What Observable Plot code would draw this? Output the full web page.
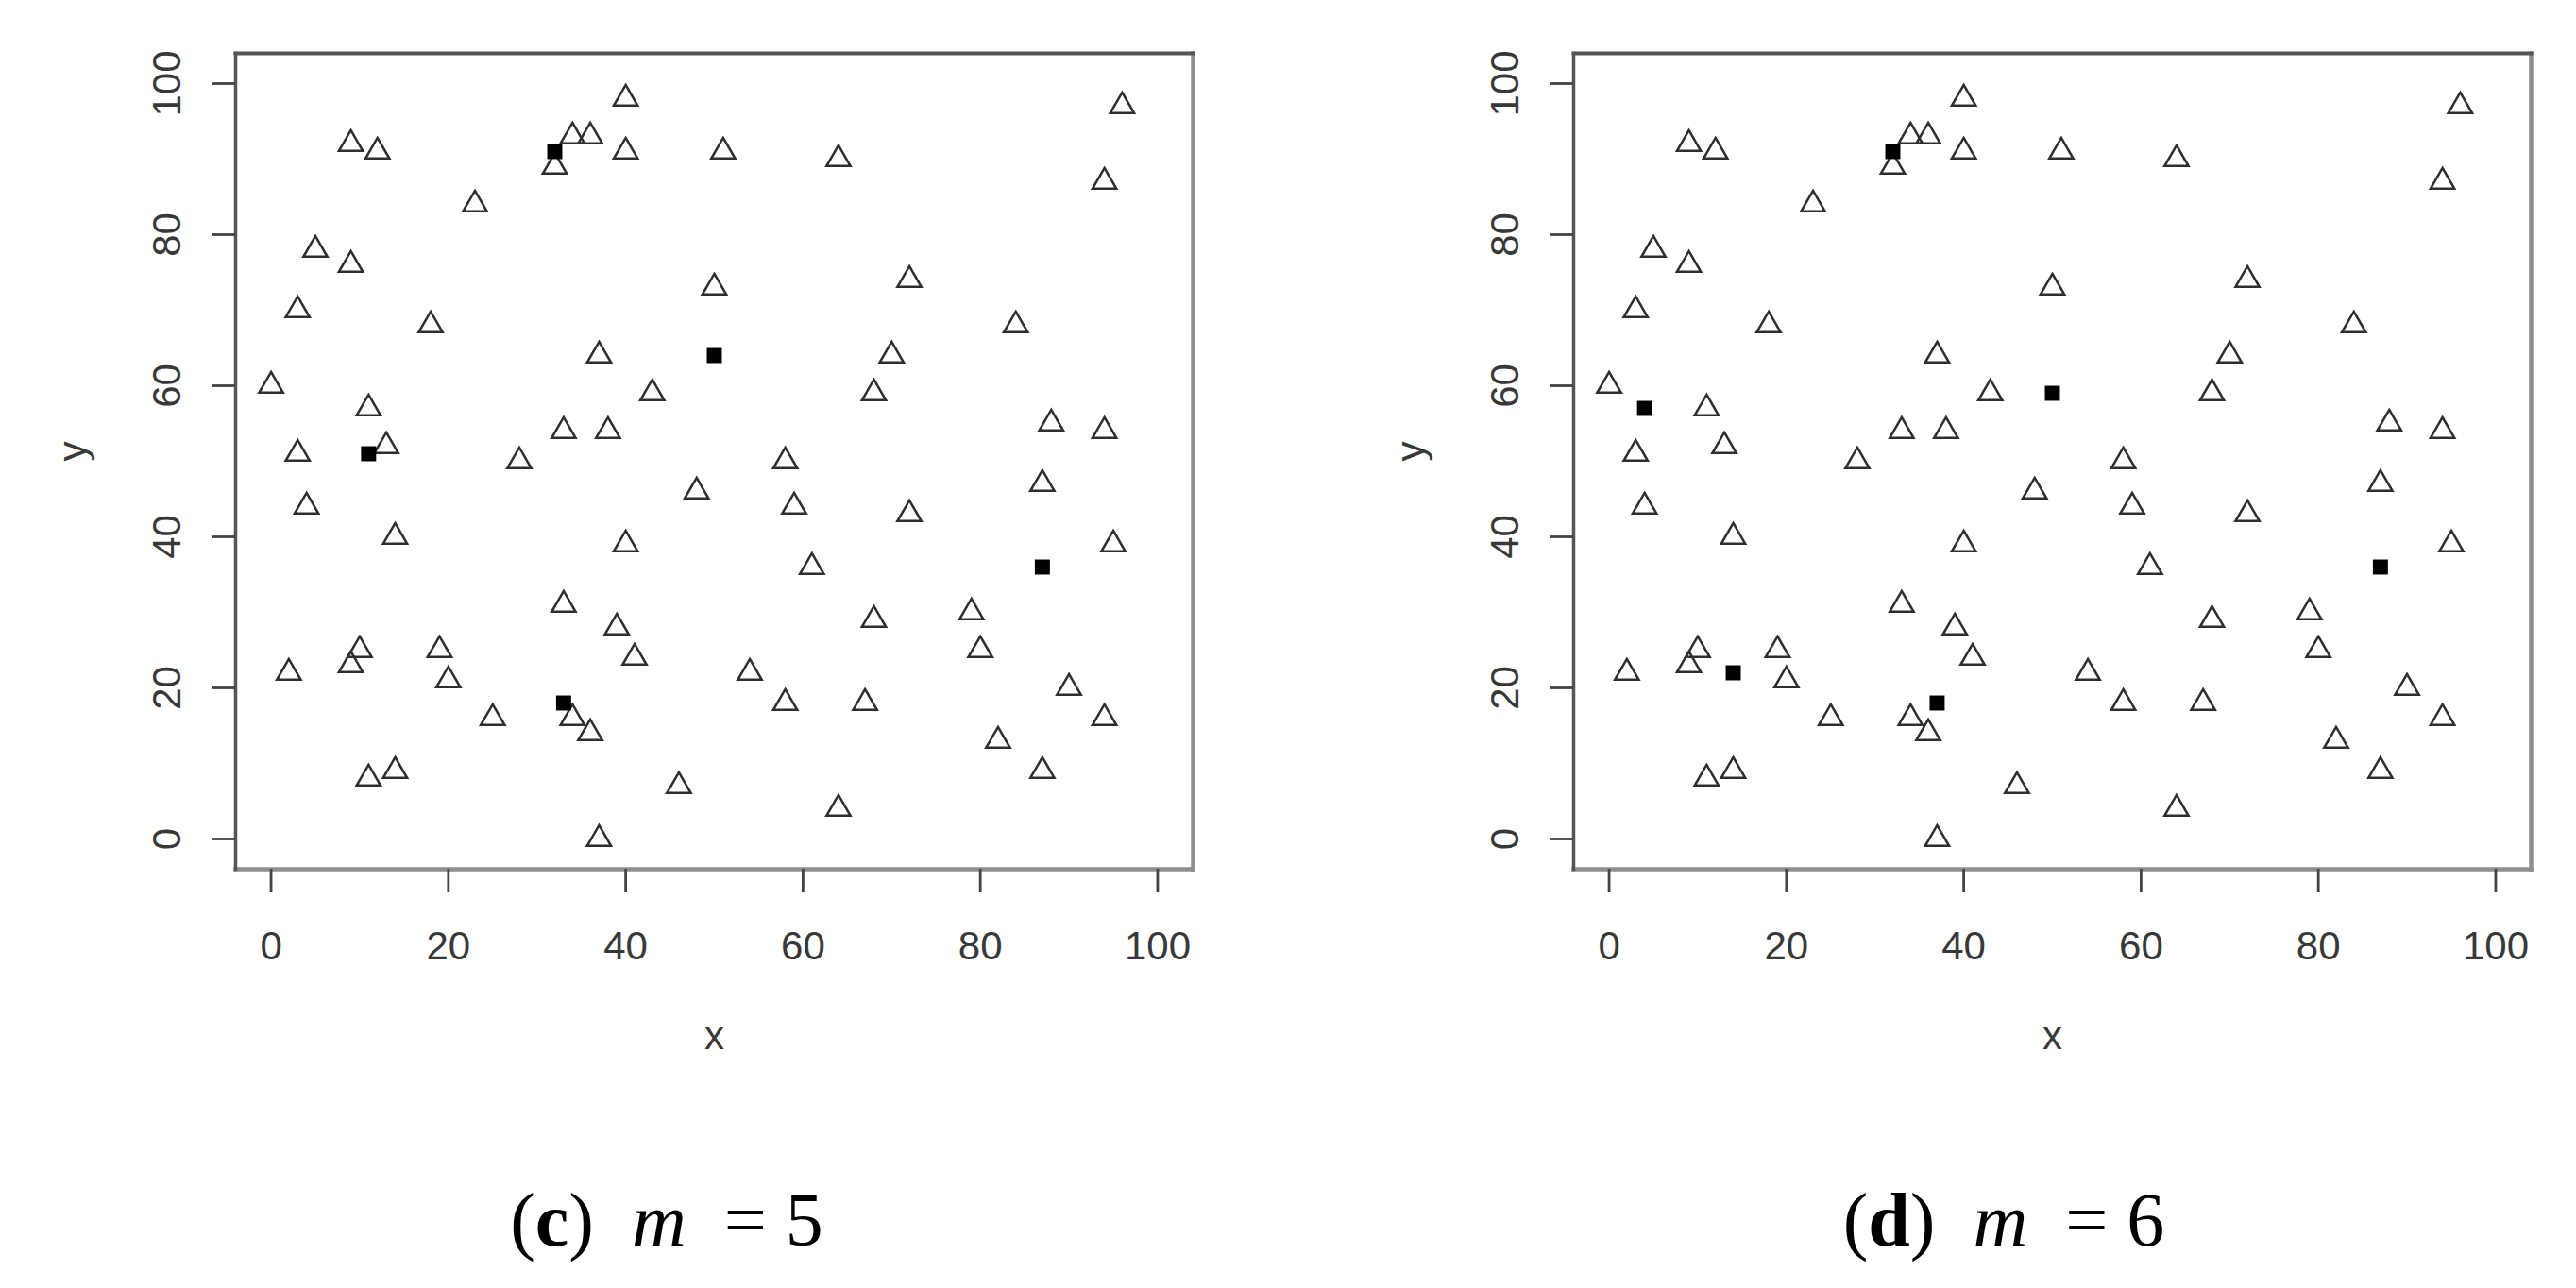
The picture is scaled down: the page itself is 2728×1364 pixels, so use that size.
<!DOCTYPE html>
<html>
<head>
<meta charset="utf-8">
<script src="https://cdn.jsdelivr.net/npm/d3@7"></script>
<script src="https://cdn.jsdelivr.net/npm/@observablehq/plot@0.6"></script>
<style>
  html, body { margin: 0; padding: 0; background: #fff; }
  #page { position: relative; width: 2728px; height: 1364px; overflow: hidden; background: #fff; }
  .panel { position: absolute; top: 0; }
  .cap { position: absolute; top: 1252px; width: 700px; text-align: center;
         font-family: "Liberation Serif", "Times New Roman", serif; font-size: 80px;
         line-height: 80px; color: #000; white-space: pre; }
  .cap i { font-style: italic; }
  .cap b { font-weight: bold; }
</style>
</head>
<body>
<div id="page"></div>
<script>
// Demand points (triangles), same in both panels
const triX = [40, 96, 9, 12, 32, 34, 36, 40, 51, 64, 94, 23, 5, 9, 3, 50, 72, 18, 84, 37, 70, 0, 43, 68, 11, 33, 38, 88, 94, 3, 13, 28, 58, 87, 48, 4, 59, 72, 14, 40, 95, 61, 33, 79, 68, 39, 10, 9, 19, 80, 41, 2, 20, 54, 90, 25, 34, 36, 58, 67, 94, 82, 11, 14, 87, 46, 64, 37];
const triY = [98, 97, 92, 91, 89, 93, 93, 91, 91, 90, 87, 84, 78, 76, 70, 73, 74, 68, 68, 64, 64, 60, 59, 59, 57, 54, 54, 55, 54, 51, 52, 50, 50, 47, 46, 44, 44, 43, 40, 39, 39, 36, 31, 30, 29, 28, 25, 23, 25, 25, 24, 22, 21, 22, 20, 16, 16, 14, 18, 18, 16, 13, 8, 9, 9, 7, 4, 0];

// Selected facilities (black squares)
const sqX5 = [32, 11, 50, 33, 87];
const sqY5 = [91, 51, 64, 18, 36];
const sqX6 = [32, 4, 50, 14, 37, 87];
const sqY6 = [91, 57, 59, 22, 18, 36];

const xTicks = [0, 20, 40, 60, 80, 100];
const yTicks = [0, 20, 40, 60, 80, 100];
const xTitle = "x";
const yTitle = "y";
const panelLetters = ["c", "d"];
const panelM = ["5", "6"];

const tri = triX.map((x, i) => ({x, y: triY[i]}));
const sq5 = sqX5.map((x, i) => ({x, y: sqY5[i]}));
const sq6 = sqX6.map((x, i) => ({x, y: sqY6[i]}));

const page = document.getElementById("page");

function panel(squares, left, width, mLeft, mRight, capCenter, letter, m) {
  const labelColor = "#383838";
  const chart = Plot.plot({
    width: width,
    height: 1160,
    marginLeft: mLeft,
    marginRight: mRight,
    marginTop: 56,
    marginBottom: 240,
    x: {domain: [-4, 104]},
    y: {domain: [-4, 104]},
    style: {background: "transparent", fontFamily: "'Liberation Sans', Arial, sans-serif", fontSize: "42px", color: labelColor},
    marks: [
      Plot.frame({anchor: "bottom", stroke: "#8e8e8e", strokeWidth: 4.5}),
      Plot.frame({anchor: "right", stroke: "#8e8e8e", strokeWidth: 4.5}),
      Plot.frame({anchor: "top", stroke: "#555", strokeWidth: 4}),
      Plot.frame({anchor: "left", stroke: "#555", strokeWidth: 3.5}),
      Plot.axisX(xTicks, {tickSize: 25, tickPadding: 41, fontSize: 42, strokeWidth: 2.8, stroke: "#444", fill: labelColor, label: null}),
      Plot.axisY(yTicks, {tickSize: 25, tickPadding: 34, fontSize: 42, strokeWidth: 2.8, stroke: "#444", fill: labelColor, tickRotate: -90, label: null}),
      Plot.text([xTitle], {text: d => d, frameAnchor: "bottom", dy: 190, fontSize: 42, fill: labelColor}),
      Plot.text([yTitle], {text: d => d, frameAnchor: "left", dx: -172, rotate: -90, fontSize: 42, fill: labelColor}),
      Plot.dot(tri, {x: "x", y: "y", symbol: "triangle", r: 9.4, stroke: "#2e2e2e", strokeWidth: 2.5, fill: "none"}),
      Plot.dot(squares, {x: "x", y: "y", symbol: "square", r: 9, fill: "#000", stroke: "none"})
    ]
  });
  const wrap = document.createElement("div");
  wrap.className = "panel";
  wrap.style.left = left + "px";
  wrap.appendChild(chart);
  page.appendChild(wrap);

  const cap = document.createElement("div");
  cap.className = "cap";
  cap.style.left = (capCenter - 350) + "px";
  cap.innerHTML = "(<b>" + letter + "</b>)  <i>m</i>  = " + m;
  page.appendChild(cap);
}

panel(sq5, 0, 1330, 249, 67, 706, panelLetters[0], panelM[0]);
panel(sq6, 1400, 1328, 266, 48, 2122, panelLetters[1], panelM[1]);
</script>
</body>
</html>
